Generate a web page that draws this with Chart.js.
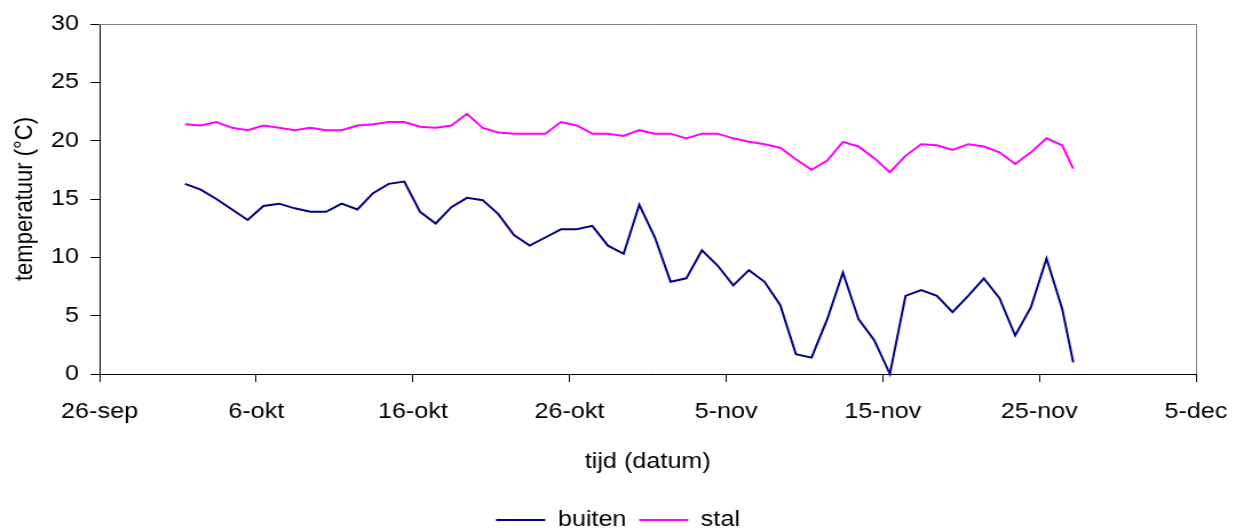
<!DOCTYPE html>
<html>
<head>
<meta charset="utf-8">
<title>temperatuur buiten en in de stal</title>
<script src="https://cdn.jsdelivr.net/npm/chart.js@4/dist/chart.umd.min.js"></script>
<style>
  html, body { margin: 0; padding: 0; background: #fff; overflow: hidden; }
  canvas { display: block; }
</style>
</head>
<body>
<!-- drawn on a narrower canvas and widened by CSS, like the original spreadsheet chart -->
<canvas id="grafiek" width="1080" height="531" style="width:1236px;height:531px"></canvas>
<script>
// as-labels (datum) on the time axis
const asLabels = ['26-sep', '6-okt', '16-okt', '26-okt', '5-nov', '15-nov', '25-nov', '5-dec'];

// moment of each daily reading
const meetmomenten = [
  '1-okt 11:00', '2-okt 11:00', '3-okt 11:00', '4-okt 11:00', '5-okt 11:00',
  '6-okt 11:00', '7-okt 11:00', '8-okt 11:00', '9-okt 11:00', '10-okt 11:00',
  '11-okt 11:00', '12-okt 11:00', '13-okt 11:00', '14-okt 11:00', '15-okt 11:00',
  '16-okt 11:00', '17-okt 11:00', '18-okt 11:00', '19-okt 11:00', '20-okt 11:00',
  '21-okt 11:00', '22-okt 11:00', '23-okt 11:00', '24-okt 11:00', '25-okt 11:00',
  '26-okt 11:00', '27-okt 11:00', '28-okt 11:00', '29-okt 11:00', '30-okt 11:00',
  '31-okt 11:00', '1-nov 11:00', '2-nov 11:00', '3-nov 11:00', '4-nov 11:00',
  '5-nov 11:00', '6-nov 11:00', '7-nov 11:00', '8-nov 11:00', '9-nov 11:00',
  '10-nov 11:00', '11-nov 11:00', '12-nov 11:00', '13-nov 11:00', '14-nov 11:00',
  '15-nov 11:00', '16-nov 11:00', '17-nov 11:00', '18-nov 11:00', '19-nov 11:00',
  '20-nov 11:00', '21-nov 11:00', '22-nov 11:00', '23-nov 11:00', '24-nov 11:00',
  '25-nov 11:00', '26-nov 11:00', '27-nov 04:00'
];

// buitentemperatuur (°C)
const buiten = [
  16.3, 15.8, 15.0, 14.1, 13.2, 14.4, 14.6, 14.2, 13.9, 13.9,
  14.6, 14.1, 15.5, 16.3, 16.5, 13.9, 12.9, 14.3, 15.1, 14.9,
  13.7, 11.9, 11.0, 11.7, 12.4, 12.4, 12.7, 11.0, 10.3, 14.5,
  11.7, 7.9, 8.2, 10.6, 9.3, 7.6, 8.9, 7.9, 5.9, 1.7,
  1.4, 4.7, 8.7, 4.7, 2.9, 0.0, 6.7, 7.2, 6.7, 5.3,
  6.7, 8.2, 6.5, 3.3, 5.7, 9.9, 5.6, 1.0
];

// staltemperatuur (°C)
const stal = [
  21.4, 21.3, 21.6, 21.1, 20.9, 21.3, 21.1, 20.9, 21.1, 20.9,
  20.9, 21.3, 21.4, 21.6, 21.6, 21.2, 21.1, 21.3, 22.3, 21.1,
  20.7, 20.6, 20.6, 20.6, 21.6, 21.3, 20.6, 20.6, 20.4, 20.9,
  20.6, 20.6, 20.2, 20.6, 20.6, 20.2, 19.9, 19.7, 19.4, 18.4,
  17.5, 18.3, 19.9, 19.5, 18.5, 17.3, 18.7, 19.7, 19.6, 19.2,
  19.7, 19.5, 19.0, 18.0, 19.0, 20.2, 19.6, 17.6
];

// y-axis range and step (°C)
const yMin = 0, yMax = 30, yStap = 5;

// "d-mmm [hh:mm]" -> days since 26-sep
const maanden = { sep: 8, okt: 9, nov: 10, dec: 11 };
function dagnummer(tekst) {
  const [datum, tijd] = tekst.split(' ');
  const [d, m] = datum.split('-');
  let uren = 0;
  if (tijd) {
    const [h, min] = tijd.split(':').map(Number);
    uren = h + min / 60;
  }
  const t = Date.UTC(2001, maanden[m], Number(d)) - Date.UTC(2001, 8, 26);
  return t / 86400000 + uren / 24;
}

const asDagen = asLabels.map(dagnummer);
const xWaarden = meetmomenten.map(dagnummer);
const reeks = (ys) => ys.map((y, i) => ({ x: xWaarden[i], y }));

Chart.defaults.font.family = "'Liberation Sans', Arial, sans-serif";
Chart.defaults.font.size = 22;
Chart.defaults.color = '#000';

// grey frame on the top and right of the plot area
const kader = {
  id: 'kader',
  beforeDatasetsDraw(chart) {
    const { ctx, chartArea: a } = chart;
    const top = Math.round(a.top) + 0.5;
    const right = Math.round(a.right) + 0.5;
    ctx.save();
    ctx.strokeStyle = '#808080';
    ctx.lineWidth = 1;
    ctx.beginPath();
    ctx.moveTo(a.left, top);
    ctx.lineTo(right, top);
    ctx.lineTo(right, a.bottom);
    ctx.stroke();
    ctx.restore();
  }
};

new Chart(document.getElementById('grafiek'), {
  type: 'line',
  data: {
    datasets: [
      {
        label: 'buiten',
        data: reeks(buiten),
        borderColor: '#000080',
        backgroundColor: '#000080',
        borderWidth: 2,
        pointRadius: 0,
        tension: 0,
        clip: 4
      },
      {
        label: 'stal',
        data: reeks(stal),
        borderColor: '#ff00ff',
        backgroundColor: '#ff00ff',
        borderWidth: 2,
        pointRadius: 0,
        tension: 0,
        clip: 4
      }
    ]
  },
  options: {
    responsive: false,
    animation: false,
    devicePixelRatio: 1,
    layout: { padding: { left: 0, top: 24, right: 0, bottom: -10 } },
    plugins: {
      legend: {
        position: 'bottom',
        labels: {
          usePointStyle: true,
          pointStyle: 'line',
          pointStyleWidth: 43,
          boxHeight: 22,
          padding: 11,
          color: '#000',
          font: { size: 22 }
        }
      },
      tooltip: { enabled: false }
    },
    scales: {
      x: {
        type: 'linear',
        min: asDagen[0],
        max: asDagen[asDagen.length - 1],
        afterBuildTicks(scale) {
          scale.ticks = asDagen.map(v => ({ value: v }));
        },
        afterFit(scale) {
          scale.height = 124;
          scale.paddingLeft = 0;
          scale.paddingRight = 35;
        },
        ticks: {
          autoSkip: false,
          maxRotation: 0,
          padding: 17,
          color: '#000',
          callback: (v) => asLabels[asDagen.indexOf(v)]
        },
        grid: { drawOnChartArea: false, drawTicks: true, tickLength: 8, color: '#000' },
        border: { display: true, color: '#000', width: 1 },
        title: {
          display: true,
          text: 'tijd (datum)',
          color: '#000',
          font: { size: 22 },
          padding: { top: 0, bottom: 23 }
        }
      },
      y: {
        min: yMin,
        max: yMax,
        afterFit(scale) { scale.width = 87; },
        ticks: { stepSize: yStap, padding: 10, color: '#000' },
        grid: { drawOnChartArea: false, drawTicks: true, tickLength: 8, color: '#000' },
        border: { display: true, color: '#000', width: 1 },
        title: {
          display: true,
          text: 'temperatuur (°C)',
          color: '#000',
          font: { size: 22 },
          padding: { top: 9, bottom: 0 }
        }
      }
    }
  },
  plugins: [kader]
});
</script>
</body>
</html>
